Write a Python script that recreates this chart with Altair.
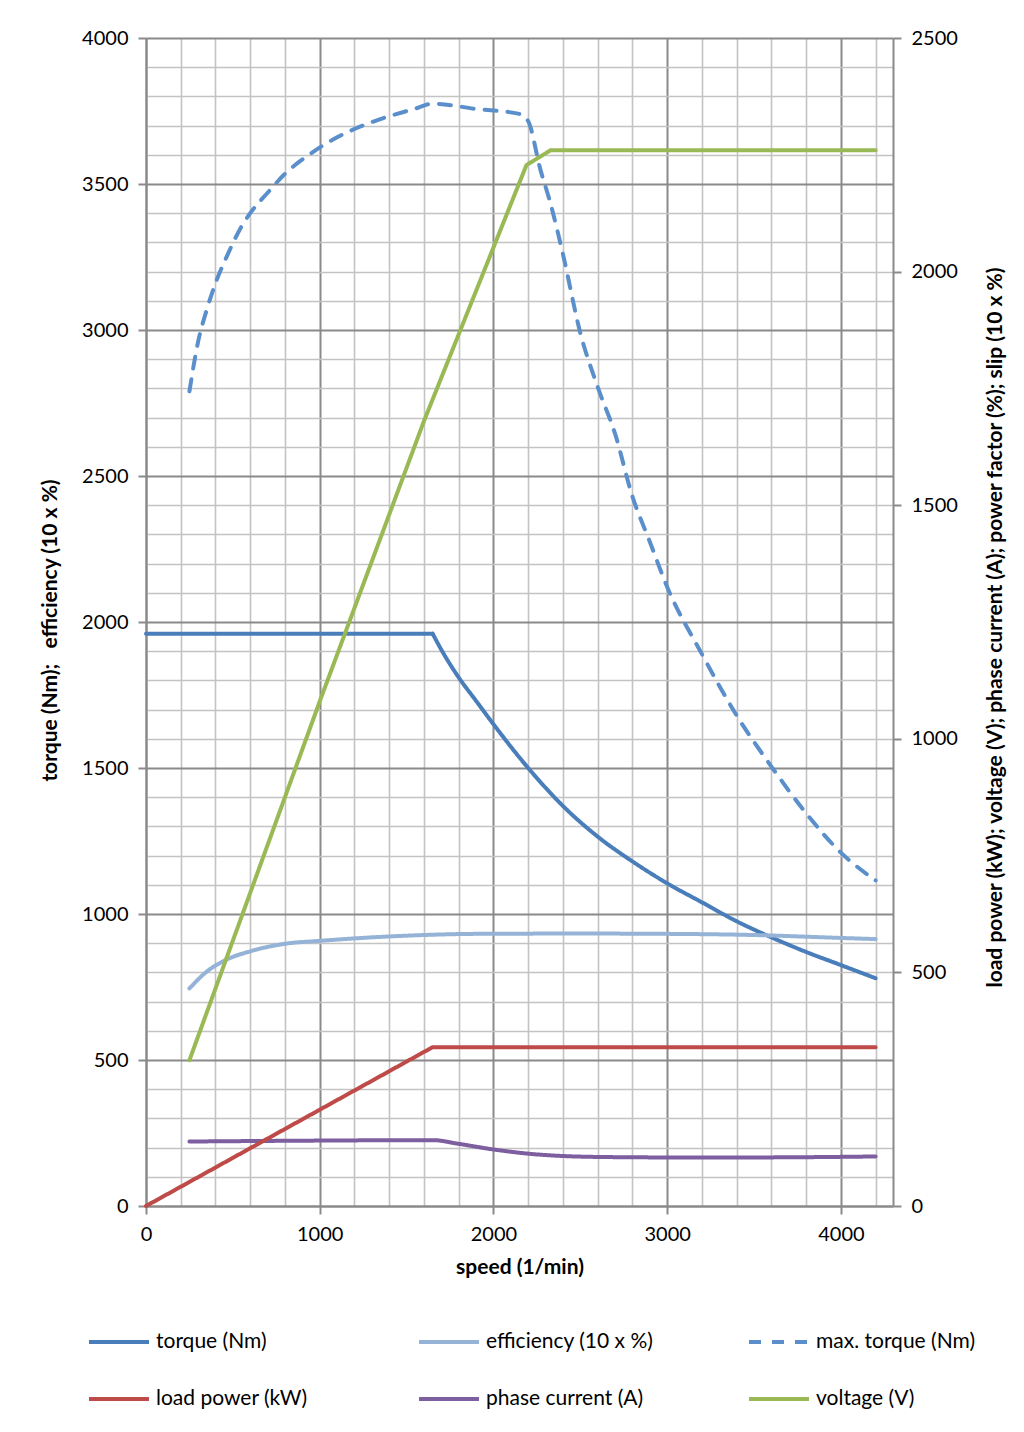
import altair as alt
import pandas as pd

FONT = "Lato, sans-serif"

series_order = ["torque (Nm)", "efficiency (10 x %)", "max. torque (Nm)",
                "load power (kW)", "phase current (A)", "voltage (V)"]
series_colors = ["#4A7EBB", "#95B3D7", "#5A8FCB", "#BE4B48", "#7D5FA0", "#98B954"]
dash_patterns = [[1, 0], [1, 0], [12, 11], [1, 0], [1, 0], [1, 0]]

# left axis series
torque_flat_speed = [0, 1650]
torque_flat_value = [1960, 1960]
torque_speed = [1650, 1700, 1800, 1900, 2000, 2200, 2400, 2600, 2800, 3000,
                3200, 3400, 3600, 3800, 4000, 4200]
torque_value = [1960, 1905, 1810, 1730, 1650, 1500, 1370, 1265, 1180, 1105,
                1040, 975, 920, 870, 825, 780]

eff_speed = [250, 350, 450, 600, 800, 1000, 1300, 1600, 1900, 2500, 3000, 3500, 4000, 4200]
eff_value = [745, 803, 840, 872, 898, 908, 920, 928, 932, 933, 932, 928, 918, 914]

maxt_speed = [250, 300, 350, 400, 475, 550, 600, 700, 800, 950, 1100, 1300, 1550, 1650,
              1900, 2150, 2200, 2270, 2330, 2400, 2500, 2600, 2700, 2800, 2900, 3000,
              3200, 3400, 3600, 3800, 4000, 4200]
maxt_value = [2790, 2960, 3070, 3160, 3265, 3355, 3400, 3470, 3535, 3605, 3660, 3712, 3758, 3775,
              3757, 3740, 3715, 3550, 3430, 3260, 2990, 2805, 2645, 2430, 2275, 2120,
              1890, 1680, 1505, 1345, 1210, 1115]

# right axis series
power_speed = [0, 1650, 4200]
power_value = [0, 340, 340]

current_speed = [250, 1000, 1650, 1800, 2000, 2200, 2400, 2600, 3000, 3500, 4200]
current_value = [138, 140, 141, 133, 121, 112, 107, 105, 104, 104, 106]

volt_speed = [250, 1000, 1600, 2190, 2330, 4200]
volt_value = [312, 1080, 1680, 2228, 2260, 2260]


def frame(name, xs, ys):
    return pd.DataFrame({"series": name, "speed": xs, "value": ys})


flat_df = frame(series_order[0], torque_flat_speed, torque_flat_value)
curve_df = pd.concat([
    frame(series_order[0], torque_speed, torque_value),
    frame(series_order[1], eff_speed, eff_value),
    frame(series_order[2], maxt_speed, maxt_value),
], ignore_index=True)

lin_df = pd.concat([
    frame(series_order[3], power_speed, power_value),
    frame(series_order[5], volt_speed, volt_value),
], ignore_index=True)
cur_df = frame(series_order[4], current_speed, current_value)

MAJOR = "#8A8A8A"
MINOR = "#C3C3C3"

legend = alt.Legend(
    title=None, orient="none", direction="horizontal", legendX=-59, legendY=1272, columns=3,
    symbolType="stroke", symbolSize=3600, symbolStrokeWidth=4,
    labelFontSize=21, labelFont=FONT, labelColor="#000000", labelOffset=5, labelLimit=400,
    gridAlign="all", columnPadding=87, rowPadding=15, padding=0,
)

color = alt.Color("series:N", scale=alt.Scale(domain=series_order, range=series_colors),
                  legend=legend)
dash = alt.StrokeDash("series:N", scale=alt.Scale(domain=series_order, range=dash_patterns),
                      legend=legend)

x_scale = alt.Scale(domain=[0, 4300], nice=False, zero=True)
x_axis = alt.Axis(
    values=list(range(0, 4201, 200)), format="d", title="speed (1/min)",
    labelExpr="datum.value % 1000 === 0 ? datum.label : ''",
    labelOverlap=False, labelFlush=False,
    grid=True,
    gridColor={"condition": {"test": "datum.value % 1000 === 0", "value": MAJOR}, "value": MINOR},
    gridWidth={"condition": {"test": "datum.value % 1000 === 0", "value": 2}, "value": 1.6},
    tickOpacity={"condition": {"test": "datum.value % 1000 === 0", "value": 1}, "value": 0},
    tickColor=MAJOR, tickSize=8, tickWidth=2,
    domainColor=MAJOR, domainWidth=2,
    labelPadding=10, titlePadding=12,
)
x_enc = alt.X("speed:Q", scale=x_scale, axis=x_axis)

left_scale = alt.Scale(domain=[0, 4000], nice=False)
left_axis = alt.Axis(
    values=list(range(0, 4001, 100)), format="d",
    title="torque (Nm);\u00a0\u00a0\u00a0efficiency (10 x %)",
    labelExpr="datum.value % 500 === 0 ? datum.label : ''",
    labelOverlap=False, labelFlush=False,
    grid=True,
    gridColor={"condition": {"test": "datum.value % 500 === 0", "value": MAJOR}, "value": MINOR},
    gridWidth={"condition": {"test": "datum.value % 500 === 0", "value": 2}, "value": 1.6},
    tickOpacity={"condition": {"test": "datum.value % 500 === 0", "value": 1}, "value": 0},
    tickColor=MAJOR, tickSize=8, tickWidth=2,
    domainColor=MAJOR, domainWidth=2,
    labelPadding=10,
    titleX=-96, titleY=592, titleAngle=270, titleBaseline="middle", titleAlign="center",
)
left_y = alt.Y("value:Q", scale=left_scale, axis=left_axis)

right_axis = alt.Axis(
    orient="right", values=list(range(0, 2501, 500)), format="d",
    title="load power (kW); voltage (V); phase current (A); power factor (%); slip (10 x %)",
    grid=False, labelOverlap=False, labelFlush=False,
    tickColor=MAJOR, tickSize=8, tickWidth=2,
    domainColor=MAJOR, domainWidth=2,
    labelPadding=10,
    titleX=102, titleY=589, titleAngle=270, titleBaseline="middle", titleAlign="center",
)
right_scale = alt.Scale(domain=[0, 2500], nice=False)
right_y = alt.Y("value:Q", scale=right_scale, axis=right_axis)

flat = alt.Chart(flat_df).mark_line(strokeWidth=4, strokeCap="round").encode(
    x=x_enc, y=left_y, color=color, strokeDash=dash, detail="series:N",
)
curves = alt.Chart(curve_df).mark_line(strokeWidth=4, interpolate="monotone", strokeCap="round").encode(
    x=x_enc, y=left_y, color=color, strokeDash=dash, detail="series:N",
)
left = alt.layer(flat, curves)

lin = alt.Chart(lin_df).mark_line(strokeWidth=4, strokeCap="round").encode(
    x=x_enc, y=right_y, color=color, strokeDash=dash, detail="series:N",
)
cur = alt.Chart(cur_df).mark_line(strokeWidth=4, interpolate="monotone", strokeCap="round").encode(
    x=x_enc, y=right_y, color=color, strokeDash=dash, detail="series:N",
)
right = alt.layer(cur, lin)

chart = alt.layer(left, right).resolve_scale(y="independent").properties(
    width=747, height=1168,
    padding={"left": 138, "top": 30, "right": 120, "bottom": 214},
    autosize=alt.AutoSizeParams(type="none"),
    background="#FFFFFF",
).configure_view(strokeWidth=0).configure_axis(
    labelFont=FONT, labelFontSize=20, labelColor="#000000",
    titleFont=FONT, titleFontSize=21, titleFontWeight="bold", titleColor="#000000",
)

chart.save("out.html", embed_options={"renderer": "svg", "actions": False})
